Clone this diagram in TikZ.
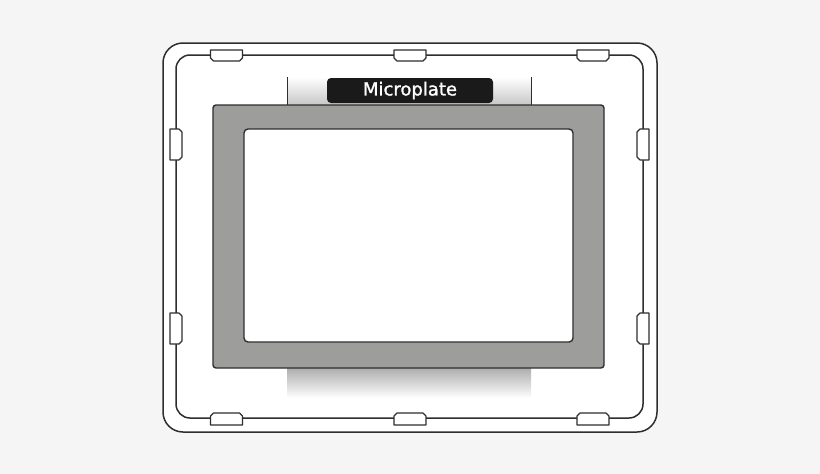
\documentclass[tikz,border=0pt]{standalone}
\usepackage{fontspec}
\setsansfont{DejaVu Sans}
\newfontfamily\labelfont{DejaVu Sans}[FakeBold=1.4]
\usepackage{tikz}

\definecolor{bgGray}{HTML}{F5F5F5}
\definecolor{lineDark}{HTML}{2E2E2E}
\definecolor{plateGray}{HTML}{9D9D9C}
\definecolor{labelBlack}{HTML}{1A1A1A}

\tikzset{
    frame/.style={draw=lineDark, line width=1.5pt, fill=white},
    tab/.style={draw=lineDark, line width=1.2pt, fill=white, line join=round},
    plate/.style={draw=lineDark, line width=1.4pt, fill=plateGray, rounded corners=3pt},
    well/.style={draw=lineDark, line width=1.4pt, fill=white, rounded corners=4pt},
    labelbox/.style={fill=labelBlack, text=white, rounded corners=4pt,
        minimum width=166pt, minimum height=25pt, inner sep=0pt,
        font=\labelfont\fontsize{18}{20}\selectfont}
}

\begin{document}
\begin{tikzpicture}[x=1pt,y=-1pt]
    % Background
    \fill[bgGray] (0,0) rectangle (820,474);
    \useasboundingbox (0,0) rectangle (820,474);

    % Draw the outer and inner frame
    \draw[frame, rounded corners=20pt] (163,43) rectangle (657,432);
    \draw[frame, rounded corners=14pt] (176,55) rectangle (643,418);

    % Draw the shaded strips above and below the plate
    \shade[top color=white, bottom color=black!22] (287,77) rectangle (531,105);
    \draw[lineDark, line width=1pt] (287,77) -- (287,105);
    \draw[lineDark, line width=1pt] (531,77) -- (531,105);
    \shade[top color=black!32, bottom color=white] (287,368) rectangle (531,398);

    % Draw the tabs on top and bottom
    \foreach \x in {226.5,410,593}{
        \draw[tab] (\x-16,50) -- (\x+16,50) -- (\x+16,58) -- (\x+13,61)
            -- (\x-13,61) -- (\x-16,58) -- cycle;
        \draw[tab] (\x-16,425) -- (\x+16,425) -- (\x+16,416) -- (\x+13,413)
            -- (\x-13,413) -- (\x-16,416) -- cycle;
    }

    % Draw the tabs on the sides
    \foreach \y in {129,313}{
        \draw[tab] (170,\y) -- (179,\y) -- (182,\y+3) -- (182,\y+28)
            -- (179,\y+31) -- (170,\y+31) -- cycle;
        \draw[tab] (649,\y) -- (640,\y) -- (637,\y+3) -- (637,\y+28)
            -- (640,\y+31) -- (649,\y+31) -- cycle;
    }

    % Draw the microplate
    \draw[plate] (213,105) rectangle (604,368);
    \draw[well] (244,129) rectangle (573,342);

    % Label
    \node[labelbox] (label) at (410,90.5) {Microplate};
\end{tikzpicture}
\end{document}
